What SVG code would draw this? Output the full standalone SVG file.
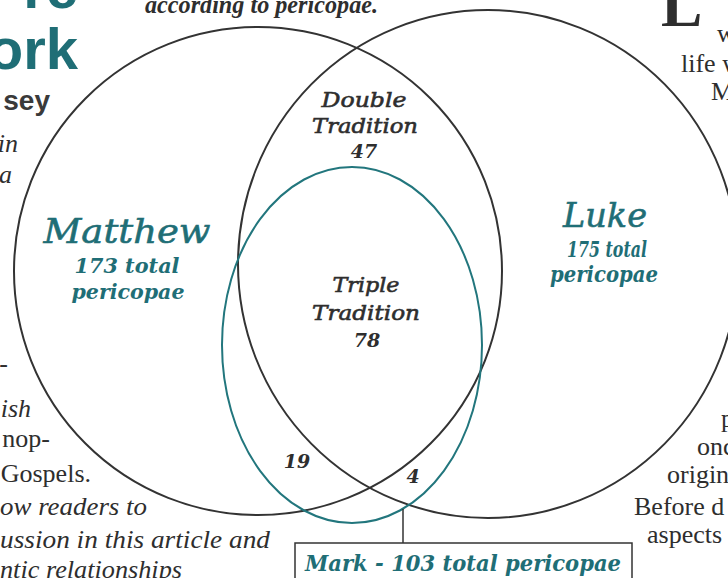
<svg xmlns="http://www.w3.org/2000/svg" width="728" height="578" viewBox="0 0 728 578">
<style>
.circ{fill:none;stroke:#333;stroke-width:2}
.mark{fill:none;stroke:#22767d;stroke-width:2}
.teal{fill:#1f6e76}
.dk{fill:#2e2e2e}
.lbl{font-family:"DejaVu Serif","Liberation Serif",serif;font-style:italic;text-anchor:middle}
.semi{stroke-width:0.6;paint-order:stroke}
.dk.semi{stroke:#2e2e2e}
.teal.semi{stroke:#1f6e76}
.body{font-family:"Liberation Serif",serif;font-size:26px;fill:#2e2e2e}
.it{font-style:italic}
.sans{font-family:"Liberation Sans",Arial,sans-serif;font-weight:bold}
</style>
<rect width="728" height="578" fill="#fff"/>
<g id="page-text">
<text class="sans teal" x="78" y="8" font-size="58" text-anchor="end">re</text>
<text class="sans teal" x="78" y="69" font-size="58" text-anchor="end">ork</text>
<text class="sans" x="50" y="110" font-size="28" fill="#3a3a3a" text-anchor="end">sey</text>
<text class="body it" x="18" y="152" text-anchor="end">in</text>
<text class="body it" x="12" y="183" text-anchor="end">a</text>
<text class="body" x="8" y="372" text-anchor="end">-</text>
<text class="body it" x="31" y="417" text-anchor="end">ish</text>
<text class="body" x="50" y="447" text-anchor="end">nop-</text>
<text class="body" x="91" y="482" text-anchor="end">Gospels.</text>
<text class="body it" x="0" y="515" textLength="147" lengthAdjust="spacingAndGlyphs">ow readers to</text>
<text class="body it" x="0" y="548" textLength="270" lengthAdjust="spacingAndGlyphs">ussion in this article and</text>
<text class="body it" x="0" y="578" textLength="182" lengthAdjust="spacingAndGlyphs">ntic relationships</text>
<text class="body it" x="145" y="13" font-weight="bold" font-size="19" fill="#3a3a3a" textLength="233" lengthAdjust="spacingAndGlyphs">according to pericopae.</text>
<text x="661" y="26" font-family="Liberation Serif,serif" font-weight="bold" font-size="62" fill="#2e2e2e">L</text>
<text class="body" x="717" y="42">w</text>
<text class="body" x="681" y="72">life w</text>
<text class="body" x="711" y="100">M</text>
<text class="body" x="721" y="427">p</text>
<text class="body" x="697" y="455">once</text>
<text class="body" x="667" y="483">origin</text>
<text class="body" x="634" y="515">Before d</text>
<text class="body" x="647" y="543">aspects</text>
</g>
<g id="matthew">
<circle class="circ" cx="258" cy="271" r="244"/>
<text class="lbl teal semi" x="127" y="243" font-size="34" textLength="167" lengthAdjust="spacingAndGlyphs">Matthew</text>
<text class="lbl teal" x="127" y="273" font-size="21" font-weight="bold" textLength="105" lengthAdjust="spacingAndGlyphs">173 total</text>
<text class="lbl teal" x="128" y="299" font-size="21" font-weight="bold" textLength="113" lengthAdjust="spacingAndGlyphs">pericopae</text>
</g>
<g id="luke">
<ellipse class="circ" cx="488" cy="264" rx="250" ry="254"/>
<text class="lbl teal semi" x="605" y="227" font-size="34" textLength="84" lengthAdjust="spacingAndGlyphs">Luke</text>
<text class="lbl teal" x="607" y="257" font-size="22" font-weight="bold" textLength="80" lengthAdjust="spacingAndGlyphs">175 total</text>
<text class="lbl teal" x="604" y="282" font-size="22" font-weight="bold" textLength="108" lengthAdjust="spacingAndGlyphs">pericopae</text>
</g>
<g id="mark">
<ellipse class="mark" cx="352" cy="345" rx="130" ry="178"/>
</g>
<g id="double-tradition">
<text class="lbl dk semi" x="364" y="107" font-size="21" textLength="85" lengthAdjust="spacingAndGlyphs">Double</text>
<text class="lbl dk semi" x="365" y="133" font-size="21" textLength="106" lengthAdjust="spacingAndGlyphs">Tradition</text>
<text class="lbl dk" x="364" y="158" font-size="19" font-weight="bold">47</text>
</g>
<g id="triple-tradition">
<text class="lbl dk semi" x="366" y="292" font-size="21" textLength="67" lengthAdjust="spacingAndGlyphs">Triple</text>
<text class="lbl dk semi" x="366" y="320" font-size="21" textLength="108" lengthAdjust="spacingAndGlyphs">Tradition</text>
<text class="lbl dk" x="367" y="347" font-size="19" font-weight="bold">78</text>
</g>
<g id="matthew-mark">
<text class="lbl dk" x="297" y="468" font-size="19" font-weight="bold">19</text>
</g>
<g id="luke-mark">
<text class="lbl dk" x="413" y="483" font-size="19" font-weight="bold">4</text>
</g>
<g id="connectors">
<line x1="403" y1="509" x2="403" y2="543" stroke="#333" stroke-width="1.5"/>
</g>
<g id="mark-label">
<rect x="295" y="543" width="337" height="60" fill="#fff" stroke="#333" stroke-width="1.5"/>
<text class="lbl teal" x="463" y="571" font-size="22" font-weight="bold" textLength="316" lengthAdjust="spacingAndGlyphs">Mark - 103 total pericopae</text>
</g>
</svg>
